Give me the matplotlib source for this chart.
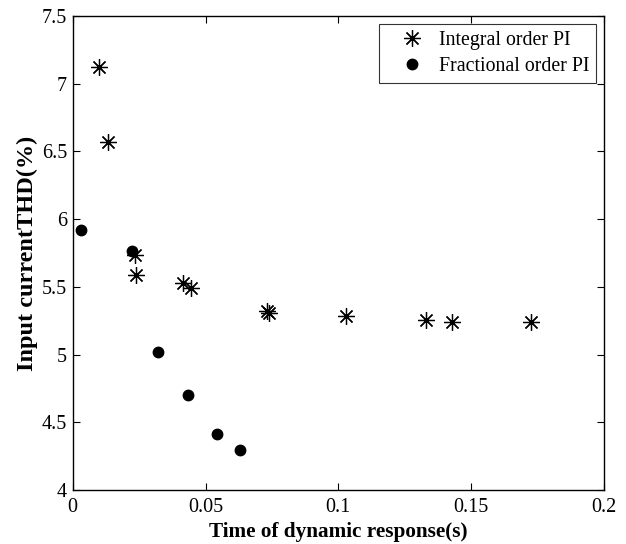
import numpy as np
import matplotlib
matplotlib.use("Agg")
import matplotlib.pyplot as plt

# response time (s) and input current THD (%) for the two controllers
int_time = [0.0099, 0.0132, 0.0234, 0.0238, 0.0414, 0.0444, 0.0730, 0.0738,
            0.1028, 0.1329, 0.1429, 0.1727]
int_thd = [7.12, 6.57, 5.735, 5.59, 5.525, 5.49, 5.32, 5.31,
           5.287, 5.255, 5.242, 5.242]

frac_time = [0.0031, 0.0224, 0.0321, 0.0435, 0.0543, 0.0630]
frac_thd = [5.92, 5.767, 5.016, 4.70, 4.415, 4.295]

x_ticks = [0, 0.05, 0.1, 0.15, 0.2]
x_labels = ["0", "0.05", "0.1", "0.15", "0.2"]
y_ticks = [4, 4.5, 5, 5.5, 6, 6.5, 7, 7.5]
y_labels = ["4", "4.5", "5", "5.5", "6", "6.5", "7", "7.5"]

plt.rcParams["font.family"] = ["Liberation Serif", "DejaVu Serif"]

fig = plt.figure(figsize=(6.26, 5.44), dpi=100)
ax = fig.add_axes([72.7 / 626, 1 - 490 / 544, (604 - 72.7) / 626, (490 - 16) / 544])

# matlab-style '*' marker: four crossing strokes
ax.plot(int_time, int_thd, linestyle="none", marker=(8, 2, 0), markersize=12,
        markeredgewidth=0.9, color="black", label="Integral order PI")
ax.plot(frac_time, frac_thd, linestyle="none", marker="o", markersize=7.5,
        color="black", label="Fractional order PI")

ax.set_xlim(0, 0.2)
ax.set_ylim(4, 7.5)
ax.set_xticks(x_ticks)
ax.set_xticklabels(x_labels)
ax.set_yticks(y_ticks)
ax.set_yticklabels(y_labels)
ax.tick_params(direction="in", top=True, right=True, length=5, width=0.8,
               labelsize=14.5)
ax.tick_params(axis="x", pad=6)
ax.tick_params(axis="y", pad=4)
for s in ax.spines.values():
    s.set_linewidth(1.0)

ax.set_xlabel("Time of dynamic response(s)", fontsize=15.3, fontweight="bold",
              labelpad=3)
ax.set_ylabel("Input currentTHD(%)", fontsize=17.5, fontweight="bold",
              labelpad=3)

leg = ax.legend(loc="upper right", fontsize=14.3, frameon=True, fancybox=False,
                edgecolor="black", borderaxespad=0.4, handletextpad=0.05,
                borderpad=0.35, labelspacing=0.35, handlelength=2.6)
leg.get_frame().set_linewidth(0.8)

fig.savefig("out.png", dpi=100)
